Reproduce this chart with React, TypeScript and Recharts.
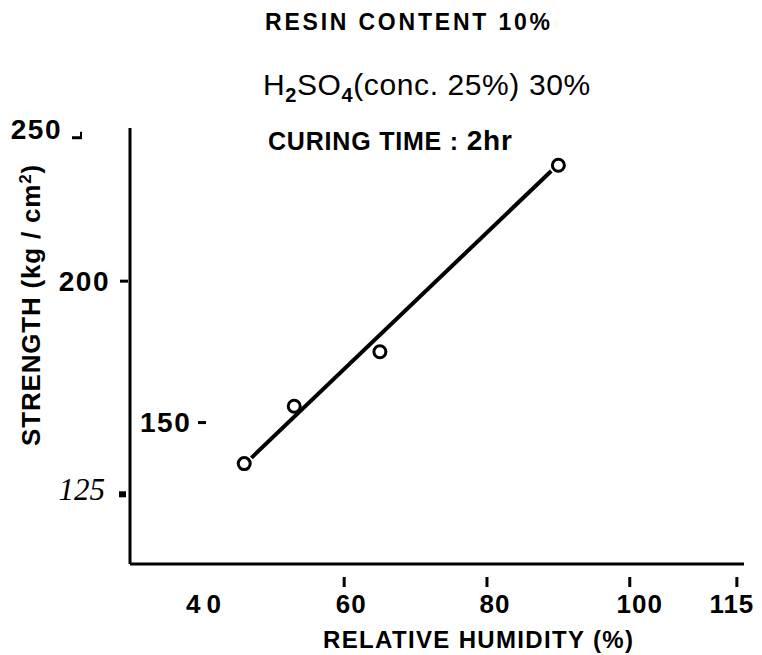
import React from 'react';
import { ComposedChart, Scatter, XAxis, YAxis } from 'recharts';

// ---- data ----
const humidity = [46, 53, 65, 90];
const strength = [135, 155, 174, 239];
const fitHumidity = [47, 89];
const fitStrength = [137, 237];
const xTicks = [40, 60, 80, 100, 115];
const yTicks = [125, 150, 200, 250];
const titleResin = 'RESIN CONTENT 10%';
const titleCuring = 'CURING TIME :  ';
const titleCuringValue = '2hr';
const xLabel = 'RELATIVE HUMIDITY (%)';
const yLabelMain = 'STRENGTH (kg / cm';
const yLabelSup = '2';
const yLabelEnd = ')';

const points = humidity.map((h, i) => ({ h, s: strength[i] }));
const fitLine = fitHumidity.map((h, i) => ({ h, s: fitStrength[i] }));

const SANS = '"Liberation Sans", Arial, sans-serif';
const SERIF = '"Liberation Serif", "Times New Roman", serif';

// per-tick styling for the irregular hand-lettered y labels
const yTickStyle: Record<number, any> = {
  250: { end: -68, dy: -4, serif: false, mark: 'hook', mx: -58 },
  200: { end: -20, dy: 4, serif: false, mark: 'dash', mx: -10 },
  150: { start: 10, dy: 2, serif: false, mark: 'dash', mx: 68 },
  125: { end: -25, dy: -3, serif: true, mark: 'dot', mx: -11 },
};

const YTick = (props: any) => {
  const { x, y, payload } = props;
  const v = payload.value;
  const st = yTickStyle[v] || { end: -10, dy: 0, mark: 'none', mx: 0 };
  const ax = x;
  const textProps: any = st.start !== undefined
    ? { x: ax + st.start, textAnchor: 'start' }
    : { x: ax + st.end, textAnchor: 'end' };
  let mark = null;
  if (st.mark === 'dash') {
    mark = <line x1={ax + st.mx} x2={ax + st.mx + 8} y1={y + st.dy} y2={y + st.dy} stroke="#000" strokeWidth={3} />;
  } else if (st.mark === 'hook') {
    mark = (
      <g>
        <line x1={ax + st.mx} x2={ax + st.mx + 10} y1={y + 4} y2={y + 4} stroke="#000" strokeWidth={3} />
        <line x1={ax + st.mx + 9} x2={ax + st.mx + 9} y1={y - 2} y2={y + 5} stroke="#000" strokeWidth={2} />
      </g>
    );
  } else if (st.mark === 'dot') {
    mark = <rect x={ax + st.mx} y={y - 1} width={7} height={6} fill="#000" />;
  }
  return (
    <g>
      <text
        {...textProps}
        y={y + st.dy}
        dominantBaseline="central"
        fill="#000"
        fontFamily={st.serif ? SERIF : SANS}
        fontStyle={st.serif ? 'italic' : 'normal'}
        fontWeight={st.serif ? 400 : 700}
        fontSize={st.serif ? 31 : 28}
        letterSpacing={st.serif ? 0 : 1.5}
      >
        {v}
      </text>
      {mark}
    </g>
  );
};

const xTickOffset: Record<number, number> = { 40: 5, 60: 7, 80: 8, 100: 10, 115: -5 };

const XTick = (props: any) => {
  const { x, y, payload } = props;
  const v = payload.value;
  const off = xTickOffset[v] ?? 0;
  return (
    <g>
      {v !== 40 && (
        <line x1={x} x2={x} y1={y + 13} y2={y + 23} stroke="#000" strokeWidth={3} />
      )}
      <text
        x={x + off}
        y={y + 49}
        textAnchor="middle"
        fill="#000"
        fontFamily={SANS}
        fontWeight={700}
        fontSize={26}
        letterSpacing={v === 40 ? 6 : 1}
      >
        {v}
      </text>
    </g>
  );
};

const Circle = (props: any) => {
  const { cx, cy } = props;
  return <circle cx={cx} cy={cy} r={6} fill="#fff" stroke="#000" strokeWidth={3} />;
};

const Nothing = () => <g />;

export default function App() {
  return (
    <div style={{ position: 'absolute', left: 0, top: 0, width: 762, height: 655, background: '#fff' }}>
      <ComposedChart
        width={762}
        height={655}
        margin={{ top: 128, right: 18, bottom: 51, left: 70 }}
      >
        <XAxis
          dataKey="h"
          type="number"
          domain={[30, 116]}
          ticks={xTicks}
          interval={0}
          height={40}
          axisLine={{ stroke: '#000', strokeWidth: 3 }}
          tickLine={false}
          tickSize={0}
          tickMargin={0}
          tick={<XTick />}
          allowDataOverflow
        />
        <YAxis
          dataKey="s"
          type="number"
          domain={[100, 252]}
          ticks={yTicks}
          interval={0}
          width={60}
          axisLine={{ stroke: '#000', strokeWidth: 3 }}
          tickLine={false}
          tickSize={0}
          tickMargin={0}
          tick={<YTick />}
          allowDataOverflow
        />
        <Scatter
          data={fitLine}
          line={{ stroke: '#000', strokeWidth: 4 }}
          shape={<Nothing />}
          isAnimationActive={false}
        />
        <Scatter data={points} shape={<Circle />} isAnimationActive={false} />
      </ComposedChart>
      <svg
        width={762}
        height={655}
        style={{ position: 'absolute', left: 0, top: 0, pointerEvents: 'none' }}
      >
        <text x={265} y={30} fontFamily={SANS} fontWeight={700} fontSize={23} textLength={285} lengthAdjust="spacing" fill="#000">
          {titleResin}
        </text>
        <text x={263} y={95} fontFamily={SANS} fontWeight={400} fontSize={30} fill="#000" letterSpacing={0.6}>
          <tspan>H</tspan>
          <tspan dy={7} fontSize={20} fontWeight={700}>2</tspan>
          <tspan dy={-7}>SO</tspan>
          <tspan dy={7} fontSize={20} fontWeight={700}>4</tspan>
          <tspan dy={-7}>(conc. 25%)  30%</tspan>
        </text>
        <text x={268} y={150} fontFamily={SANS} fontWeight={700} fontSize={25} fill="#000" letterSpacing={0.8}>
          <tspan>{titleCuring}</tspan>
          <tspan fontSize={28}>{titleCuringValue}</tspan>
        </text>
        <text x={478} y={648} textAnchor="middle" fontFamily={SANS} fontWeight={700} fontSize={24} textLength={310} lengthAdjust="spacing" fill="#000">
          {xLabel}
        </text>
        <text
          x={0}
          y={0}
          transform="translate(40, 305) rotate(-90)"
          textAnchor="middle"
          fontFamily={SANS}
          fontWeight={700}
          fontSize={26}
          fill="#000"
          letterSpacing={0.8}
        >
          <tspan>{yLabelMain}</tspan>
          <tspan dy={-9} fontSize={17}>{yLabelSup}</tspan>
          <tspan dy={9}>{yLabelEnd}</tspan>
        </text>
      </svg>
    </div>
  );
}
